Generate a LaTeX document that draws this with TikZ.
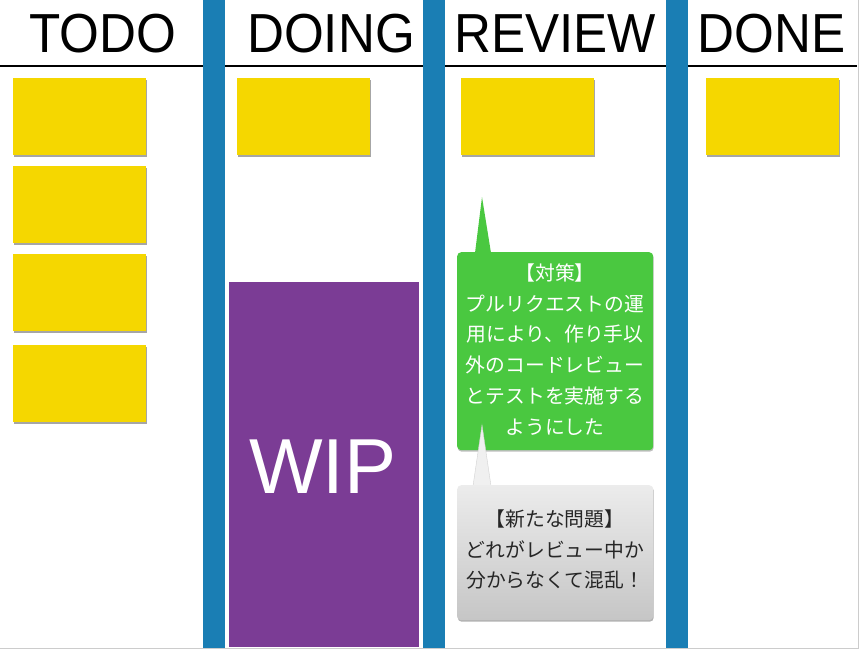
\documentclass[tikz,border=0pt]{standalone}
\usepackage{fontspec}
\setmainfont{Liberation Sans}
\newfontfamily\jpfont{Noto Sans CJK JP}
\usetikzlibrary{shadows}
\definecolor{barblue}{HTML}{1A7EB4}
\definecolor{cardyel}{HTML}{F5D700}
\definecolor{wippur}{HTML}{7B3C95}
\definecolor{callgreen}{HTML}{4AC840}
\newcommand{\hdtext}[1]{\scalebox{0.93}[1]{#1}}
\begin{document}
\begin{tikzpicture}[x=1pt,y=-1pt,
  card/.style={fill=cardyel, minimum width=133pt, minimum height=77pt, inner sep=0pt, anchor=north west,
    drop shadow={shadow xshift=0.5pt, shadow yshift=-1.5pt, opacity=0.35, fill=black}},
  header/.style={anchor=base, inner sep=0pt, font=\fontsize{55}{60}\selectfont},
  bar/.style={fill=barblue},
  calltext/.style={font=\jpfont\fontsize{19.8}{30.8}\selectfont, align=center, inner sep=0pt}]
\useasboundingbox (0,0) rectangle (866,650);
\fill[white] (0,0) rectangle (866,650);
% frame edges
\draw[gray!40, line width=0.8pt] (858,0) -- (858,648) -- (0,648);
% header line
\draw[line width=1.5pt] (0,66) -- (857,66);
% column separators
\fill[bar] (203,0) rectangle (225,648);
\fill[bar] (423,0) rectangle (445,648);
\fill[bar] (666,0) rectangle (688,648);
% headers
\node[header] (hTodo) at (103,53) {\hdtext{TODO}};
\node[header] (hDoing) at (331,53) {\hdtext{DOING}};
\node[header] (hReview) at (555,53) {\hdtext{REVIEW}};
\node[header] (hDone) at (771.5,53) {\hdtext{DONE}};
% cards
\node[card] (todo1) at (13,78) {};
\node[card] (todo2) at (13,166) {};
\node[card] (todo3) at (13,254) {};
\node[card] (todo4) at (13,345) {};
\node[card] (doing1) at (237,78) {};
\node[card] (review1) at (461,78) {};
\node[card] (done1) at (706,78) {};
% WIP
\node[fill=wippur, minimum width=190pt, minimum height=365pt, inner sep=0pt, anchor=north west] (wip) at (229,282) {};
\node[text=white, font=\fontsize{78}{80}\selectfont, inner sep=0pt, anchor=base] (wiptext) at (323,493) {WIP};
% green callout
\fill[callgreen] (475,253) -- (482,197) -- (491,253) -- cycle;
\node[fill=callgreen, rounded corners=4pt, minimum width=196pt, minimum height=198pt, anchor=north west, inner sep=0pt,
  drop shadow={shadow xshift=0.5pt, shadow yshift=-1.5pt, opacity=0.25, fill=black}] (measure) at (457,252) {};
\node[calltext, text=white] (measuretext) at (555,349.5) {【対策】\\プルリクエストの運\\用により、作り手以\\外のコードレビュー\\とテストを実施する\\ようにした};
% grey callout
\fill[gray!12] (473,486) -- (482,425) -- (491,486) -- cycle;
\draw[gray!35, line width=0.4pt] (473,486) -- (482,425) -- (491,486);
\node[top color=gray!15, bottom color=gray!45, rounded corners=4pt, minimum width=196pt, minimum height=135pt, anchor=north west, inner sep=0pt,
  drop shadow={shadow xshift=0.5pt, shadow yshift=-1.5pt, opacity=0.3, fill=black}] (problem) at (457,485) {};
\node[calltext, text=black!85] (problemtext) at (555,549.5) {【新たな問題】\\どれがレビュー中か\\分からなくて混乱！};
\end{tikzpicture}
\end{document}
